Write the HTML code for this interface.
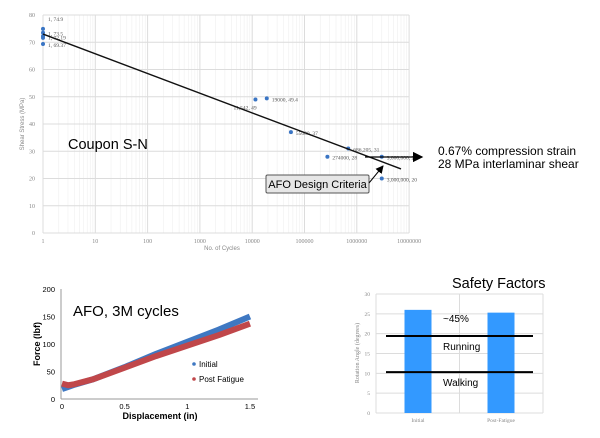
<!DOCTYPE html>
<html><head><meta charset="utf-8"><style>
html,body{margin:0;padding:0;background:#fff;width:600px;height:438px;overflow:hidden}
svg{display:block;font-family:"Liberation Sans",sans-serif}
</style></head><body>
<svg id="s" width="600" height="438" viewBox="0 0 600 438">
<defs><marker id="ah" markerWidth="8" markerHeight="8" refX="7" refY="4" orient="auto"><path d="M0,0 L8,4 L0,8 z" fill="#000"/></marker></defs>
<g id="sn"></g>
<g id="afo"></g>
<g id="sf"></g>
</svg>
<script>
// ---- S-N chart data
const snCycles=[1,1,1,1,1,11542,19000,55000,274000,686205,3000000,3000000];
const snStress=[74.9,73.5,72.19,71.6,69.37,49,49.4,37,28,31,28,20];
const snLabels=["1, 74.9","1, 73.5","1, 72.19","","1, 69.37","11,542, 49","19000, 49.4","55000, 37","274000, 28","686,205, 31","3,000,000, 28","3,000,000, 20"];
const snTrendX=[1,7000000];
const snTrendY=[73,23.5];
const snYTicks=[0,10,20,30,40,50,60,70,80];
const snXTicks=[1,10,100,1000,10000,100000,1000000,10000000];
// ---- AFO chart data
const afoDisp=[0,0.05,0.1,0.25,0.5,0.75,1,1.25,1.5];
const afoInitial=[18,22,26,36,58,82,104,126,150];
const afoPost=[28,25,27,36,57,78,97,116,137];
const afoXTicks=[0,0.5,1,1.5];
const afoYTicks=[0,50,100,150,200];
// ---- Safety factors data
const sfCats=["Initial","Post-Fatigue"];
const sfValues=[26,25.3];
const sfLimits=[19.4,10.3];
const sfLimitLabels=["Running","Walking"];
const sfYTicks=[0,5,10,15,20,25,30];

const NS="http://www.w3.org/2000/svg";
function mk(p,t,a,txt){const e=document.createElementNS(NS,t);for(const k in a)e.setAttribute(k,a[k]);if(txt!==undefined)e.textContent=txt;p.appendChild(e);return e;}

// S-N axes
const snX=v=>43+Math.log10(v)*52.3, snY=v=>233-v*2.725;
const g1=document.getElementById('sn');
for(let d=0;d<7;d++)for(let m=2;m<10;m++){const x=snX(m*Math.pow(10,d));const l=mk(g1,'line',{x1:x,x2:x,y1:snY(80),y2:snY(0),stroke:'#efefef','stroke-width':0.6});}
snYTicks.forEach(v=>{const l=mk(g1,'line',{x1:snX(1),x2:snX(1e7),y1:snY(v),y2:snY(v),stroke:'#dcdcdc','stroke-width':1});
const t=mk(g1,'text',{x:snX(1)-8,y:snY(v)+2,'font-size':6,fill:'#888','text-anchor':'end','font-family':'Liberation Serif'},v);});
snXTicks.forEach(v=>{const l=mk(g1,'line',{x1:snX(v),x2:snX(v),y1:snY(80),y2:snY(0),stroke:'#dcdcdc','stroke-width':1});
const t=mk(g1,'text',{x:snX(v),y:snY(0)+10,'font-size':6,fill:'#888','text-anchor':'middle','font-family':'Liberation Serif'},v);});
let t=mk(g1,'text',{x:222,y:250,'font-size':6,fill:'#888','text-anchor':'middle'},'No. of Cycles');
t=mk(g1,'text',{x:24,y:124,'font-size':6,fill:'#888','text-anchor':'middle',transform:'rotate(-90 24 124)'},'Shear Stress (MPa)');
snCycles.forEach((c,i)=>{const p=mk(g1,'circle',{cx:snX(c),cy:snY(snStress[i]),r:2,fill:'#3a75c4'});
if(snLabels[i]){const dy=(i==5)?10:(i==0?-8:3);const tt=mk(g1,'text',{x:snX(c)+(i==5?-22:5),y:snY(snStress[i])+dy,'font-size':5.5,fill:'#555','font-family':'Liberation Serif'},snLabels[i]);}});
let l=mk(g1,'line',{x1:snX(snTrendX[0]),y1:snY(snTrendY[0]),x2:snX(snTrendX[1]),y2:snY(snTrendY[1]),stroke:'#111','stroke-width':1.4});
l=mk(g1,'line',{x1:365,y1:157,x2:422,y2:157,stroke:'#000','stroke-width':1.3,'marker-end':'url(#ah)'});
t=mk(g1,'text',{x:68,y:149,'font-size':14.5,fill:'#000'},'Coupon S-N');
t=mk(g1,'text',{x:438,y:155,'font-size':12,fill:'#000'},'0.67% compression strain');
t=mk(g1,'text',{x:438,y:168,'font-size':12,fill:'#000'},'28 MPa interlaminar shear');
let r=mk(g1,'rect',{x:266,y:175,width:103,height:18,fill:'#e6e6e6',stroke:'#555','stroke-width':1,rx:1.5});
t=mk(g1,'text',{x:317.5,y:188,'font-size':11,fill:'#000','text-anchor':'middle'},'AFO Design Criteria');
l=mk(g1,'line',{x1:369,y1:183,x2:383,y2:166,stroke:'#000','stroke-width':1,'marker-end':'url(#ah)'});

// AFO chart
const aX=v=>62+v*125.3, aY=v=>399-v*0.55;
const g2=document.getElementById('afo');
l=mk(g2,'line',{x1:61,y1:aY(200),x2:61,y2:aY(0),stroke:'#999'});
l=mk(g2,'line',{x1:61,y1:aY(0),x2:258,y2:aY(0),stroke:'#999'});
afoYTicks.forEach(v=>{const tt=mk(g2,'text',{x:55,y:aY(v)+3,'font-size':7.5,fill:'#000','text-anchor':'end'},v);});
afoXTicks.forEach(v=>{const tt=mk(g2,'text',{x:aX(v),y:aY(0)+10,'font-size':7.5,fill:'#000','text-anchor':'middle'},v);});
const pl=(xs,ys,c,n)=>{const p=mk(g2,'polyline',{points:xs.map((x,i)=>aX(x)+','+aY(ys[i])).join(' '),fill:'none',stroke:c,'stroke-width':6,'stroke-linejoin':'round'});};
pl(afoDisp,afoInitial,'#3f78c2','series-initial');
pl(afoDisp,afoPost,'#c0474a','series-post-fatigue');
t=mk(g2,'text',{x:73,y:316,'font-size':15,fill:'#000'},'AFO, 3M cycles');
t=mk(g2,'text',{x:160,y:419,'font-size':9,'font-weight':'bold',fill:'#000','text-anchor':'middle'},'Displacement (in)');
t=mk(g2,'text',{x:40,y:344,'font-size':9,'font-weight':'bold',fill:'#000','text-anchor':'middle',transform:'rotate(-90 40 344)'},'Force (lbf)');
[['Initial','#3f78c2',367],['Post Fatigue','#c0474a',382]].forEach(e=>{const c=mk(g2,'circle',{cx:194,cy:e[2]-3,r:1.8,fill:e[1]});const tt=mk(g2,'text',{x:199,y:e[2],'font-size':8,fill:'#000'},e[0]);});

// Safety factors
const sY=v=>413-v*3.967;
const catX=[418,501];
const g3=document.getElementById('sf');
sfYTicks.forEach(v=>{const ll=mk(g3,'line',{x1:376,x2:543,y1:sY(v),y2:sY(v),stroke:'#dcdcdc'});
const tt=mk(g3,'text',{x:370,y:sY(v)+2,'font-size':5.5,fill:'#888','text-anchor':'end','font-family':'Liberation Serif'},v);});
[376,459.5,543].forEach(x=>{const ll=mk(g3,'line',{x1:x,x2:x,y1:sY(30),y2:sY(0),stroke:'#dcdcdc'});});
sfCats.forEach((c,i)=>{const b=mk(g3,'rect',{x:catX[i]-13.5,y:sY(sfValues[i]),width:27,height:sY(0)-sY(sfValues[i]),fill:'#3399ff'});
const tt=mk(g3,'text',{x:catX[i],y:422,'font-size':5.5,fill:'#888','text-anchor':'middle','font-family':'Liberation Serif'},c);});
sfLimits.forEach((v,i)=>{const ll=mk(g3,'line',{x1:386,x2:533,y1:sY(v),y2:sY(v),stroke:'#000','stroke-width':2});
const tt=mk(g3,'text',{x:443,y:sY(v)+14,'font-size':10,fill:'#000'},sfLimitLabels[i]);});
t=mk(g3,'text',{x:443,y:322,'font-size':10,fill:'#000'},'~45%');
t=mk(g3,'text',{x:452,y:288,'font-size':14.5,fill:'#000'},'Safety Factors');
t=mk(g3,'text',{x:359,y:353,'font-size':6,fill:'#888','text-anchor':'middle','font-family':'Liberation Serif',transform:'rotate(-90 359 353)'},'Rotation Angle (degrees)');
</script>
</body></html>
